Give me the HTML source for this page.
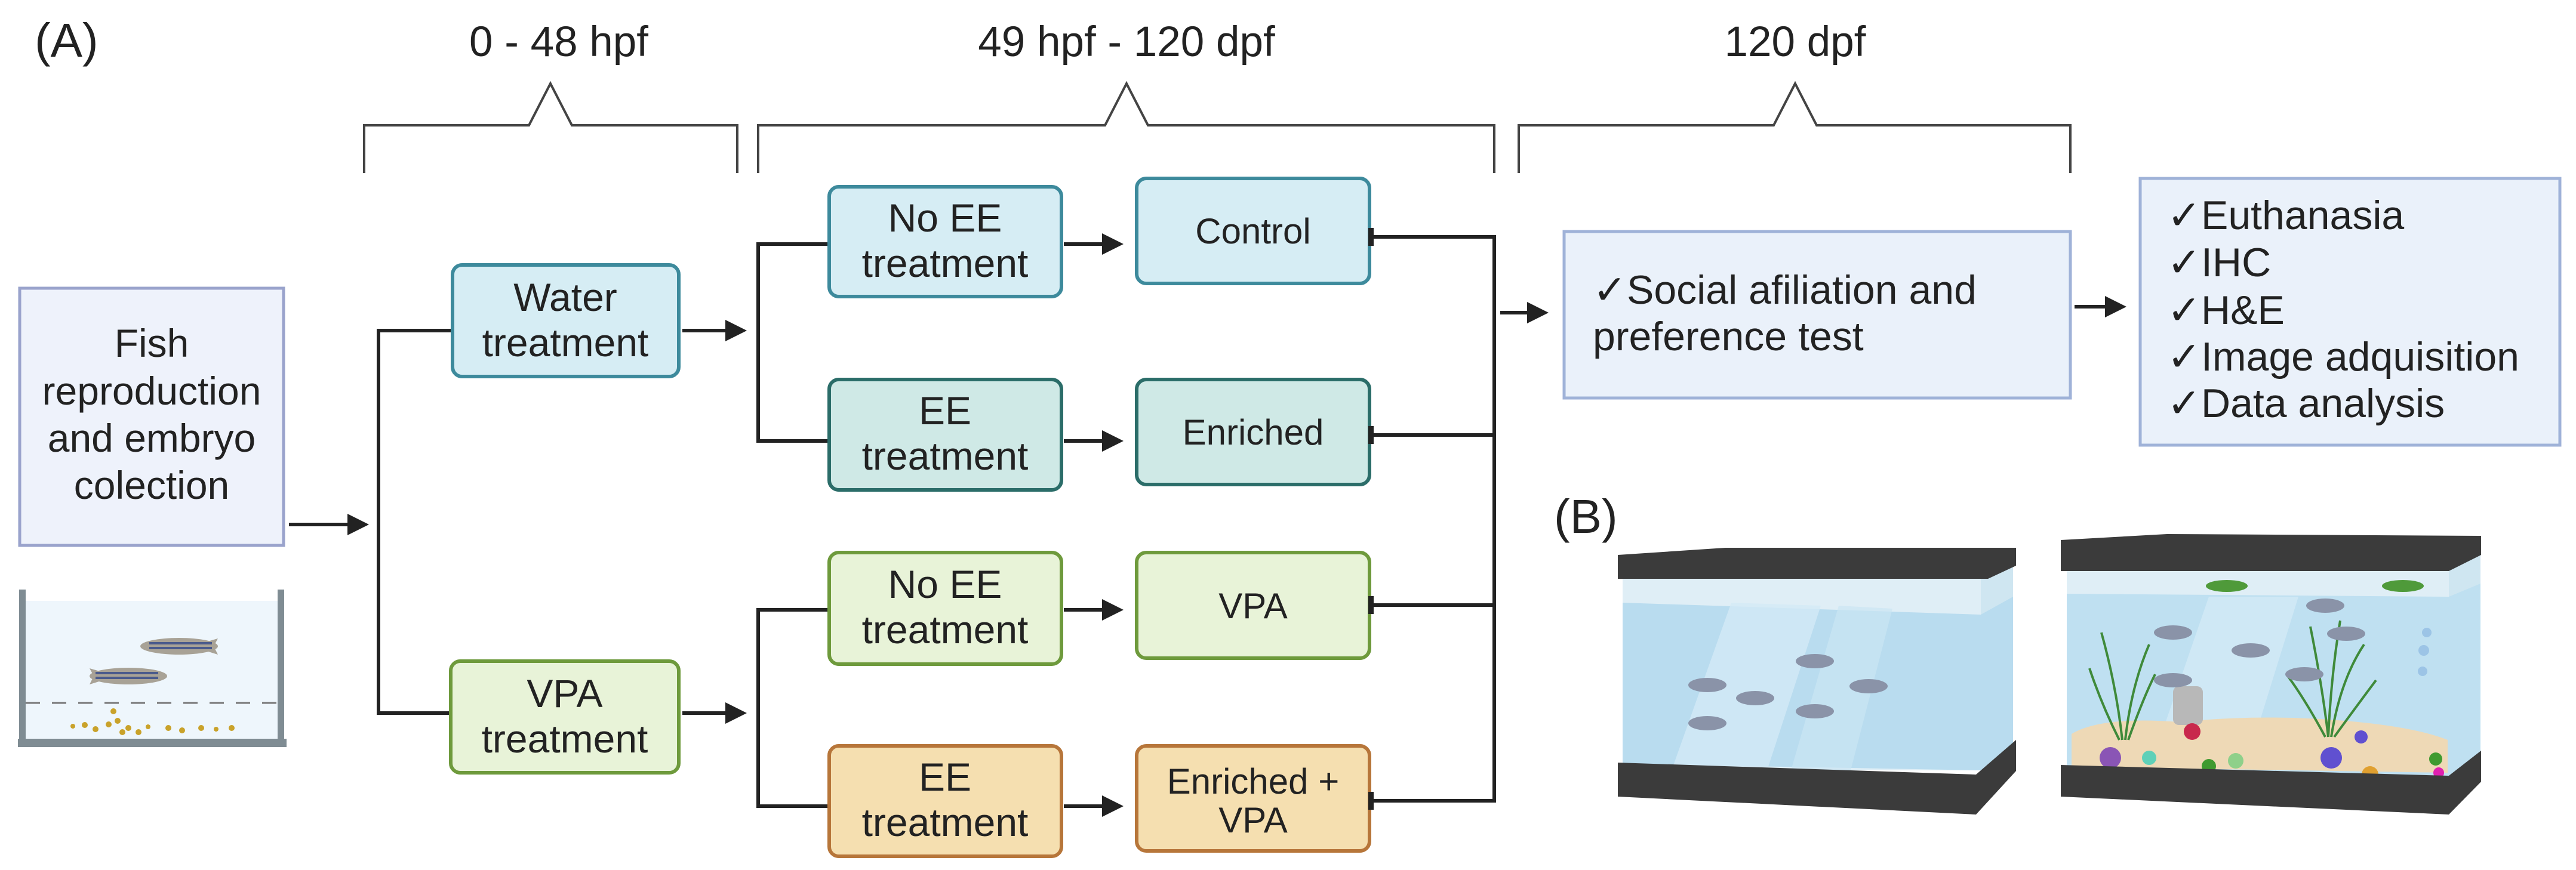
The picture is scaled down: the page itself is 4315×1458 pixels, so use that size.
<!DOCTYPE html>
<html><head><meta charset="utf-8"><style>
html,body{margin:0;padding:0;background:#fff;}
svg{display:block;}
text{font-family:"Liberation Sans","DejaVu Sans",sans-serif;fill:#222;}
</style></head><body>
<svg width="4315" height="1458" viewBox="0 0 4315 1458" xmlns="http://www.w3.org/2000/svg">
<defs>
<marker id="ah" markerWidth="6" markerHeight="6" refX="5" refY="3" orient="auto" markerUnits="strokeWidth">
<path d="M0,0 L6,3 L0,6 z" fill="#222"/></marker>
</defs>

<!-- headers -->
<text x="58" y="95" font-size="80">(A)</text>
<text x="936" y="94" font-size="71" text-anchor="middle">0 - 48 hpf</text>
<text x="1887" y="94" font-size="71" text-anchor="middle">49 hpf - 120 dpf</text>
<text x="3007" y="94" font-size="71" text-anchor="middle">120 dpf</text>

<g fill="none" stroke="#444" stroke-width="4">
<path d="M610,290 V210 H886 L922,140 L958,210 H1235 V290"/>
<path d="M1270,290 V210 H1851 L1887,140 L1923,210 H2503 V290"/>
<path d="M2544,290 V210 H2971 L3007,140 L3043,210 H3468 V290"/>
</g>

<!-- fish box -->
<rect x="33" y="483" width="442" height="431" fill="#eef2fb" stroke="#9aa3cc" stroke-width="5"/>
<g font-size="66" text-anchor="middle">
<text x="254" y="598">Fish</text>
<text x="254" y="678">reproduction</text>
<text x="254" y="757">and embryo</text>
<text x="254" y="836">colection</text>
</g>

<!-- small tank -->
<rect x="40" y="1007" width="430" height="235" fill="#eef6fc"/>
<rect x="32" y="988" width="11" height="262" fill="#7f8c93"/>
<rect x="465" y="988" width="11" height="262" fill="#7f8c93"/>
<rect x="30" y="1238" width="450" height="14" fill="#7f8c93"/>
<line x1="43" y1="1178" x2="465" y2="1178" stroke="#777" stroke-width="3" stroke-dasharray="24,20"/>
<g>
<ellipse cx="300" cy="1083" rx="65" ry="14" fill="#a8a296"/>
<path d="M320,1083 L365,1070 L358,1083 L365,1097z" fill="#a8a296"/>
<path d="M250,1078 H355 M250,1086 H355" stroke="#4a5a8c" stroke-width="4"/>
<ellipse cx="215" cy="1133" rx="65" ry="14" fill="#a8a296"/>
<path d="M195,1133 L150,1120 L157,1133 L150,1147z" fill="#a8a296"/>
<path d="M160,1128 H265 M160,1136 H265" stroke="#4a5a8c" stroke-width="4"/>
</g>
<g fill="#c9a22a">
<circle cx="190" cy="1192" r="5"/><circle cx="197" cy="1208" r="5"/><circle cx="142" cy="1215" r="5"/>
<circle cx="160" cy="1222" r="5"/><circle cx="182" cy="1214" r="5"/><circle cx="205" cy="1227" r="5"/>
<circle cx="215" cy="1220" r="5"/><circle cx="232" cy="1227" r="5"/><circle cx="282" cy="1220" r="5"/>
<circle cx="305" cy="1224" r="5"/><circle cx="337" cy="1220" r="5"/><circle cx="388" cy="1220" r="5"/>
<circle cx="122" cy="1217" r="4"/><circle cx="248" cy="1218" r="4"/><circle cx="362" cy="1222" r="4"/>
</g>

<!-- connectors -->
<g stroke="#222" stroke-width="6" fill="none">
<line x1="484" y1="879" x2="612" y2="879" marker-end="url(#ah)"/>
<path d="M758,554 H634 V1195 H753"/>
<line x1="1143" y1="554" x2="1245" y2="554" marker-end="url(#ah)"/>
<line x1="1143" y1="1195" x2="1245" y2="1195" marker-end="url(#ah)"/>
<path d="M1389,409 H1270 V739 H1389"/>
<path d="M1389,1022 H1270 V1351 H1389"/>
<line x1="1782" y1="409" x2="1876" y2="409" marker-end="url(#ah)"/>
<line x1="1782" y1="739" x2="1876" y2="739" marker-end="url(#ah)"/>
<line x1="1782" y1="1022" x2="1876" y2="1022" marker-end="url(#ah)"/>
<line x1="1782" y1="1351" x2="1876" y2="1351" marker-end="url(#ah)"/>
<path d="M2300,397 H2503 V1342 H2300"/>
<line x1="2300" y1="729" x2="2503" y2="729"/>
<line x1="2300" y1="1014" x2="2503" y2="1014"/>
<line x1="2513" y1="524" x2="2588" y2="524" marker-end="url(#ah)"/>
<line x1="3475" y1="514" x2="3556" y2="514" marker-end="url(#ah)"/>
</g>

<!-- treatment boxes -->
<g stroke-width="6">
<rect x="758" y="444" width="379" height="187" rx="16" fill="#d6edf4" stroke="#3d8a9c"/>
<rect x="755" y="1108" width="382" height="187" rx="16" fill="#e8f3d8" stroke="#6e9a3c"/>
<rect x="1389" y="313" width="389" height="184" rx="16" fill="#d6edf4" stroke="#3d8a9c"/>
<rect x="1389" y="636" width="389" height="185" rx="16" fill="#cfe9e6" stroke="#2b6d69"/>
<rect x="1389" y="926" width="389" height="187" rx="16" fill="#e8f3d8" stroke="#6e9a3c"/>
<rect x="1389" y="1250" width="389" height="185" rx="16" fill="#f5dfb0" stroke="#b7763a"/>
<rect x="1904" y="299" width="390" height="176" rx="16" fill="#d6edf4" stroke="#3d8a9c"/>
<rect x="1904" y="636" width="390" height="176" rx="16" fill="#cfe9e6" stroke="#2b6d69"/>
<rect x="1904" y="926" width="390" height="177" rx="16" fill="#e8f3d8" stroke="#6e9a3c"/>
<rect x="1904" y="1250" width="390" height="176" rx="16" fill="#f5dfb0" stroke="#b7763a"/>
</g>
<g fill="#222">
<rect x="2292" y="382" width="9" height="30"/>
<rect x="2292" y="714" width="9" height="30"/>
<rect x="2292" y="999" width="9" height="30"/>
<rect x="2292" y="1327" width="9" height="30"/>
</g>
<g font-size="66" text-anchor="middle">
<text x="947" y="521">Water</text><text x="947" y="597">treatment</text>
<text x="946" y="1185">VPA</text><text x="946" y="1261">treatment</text>
<text x="1583" y="388">No EE</text><text x="1583" y="464">treatment</text>
<text x="1583" y="711">EE</text><text x="1583" y="787">treatment</text>
<text x="1583" y="1002">No EE</text><text x="1583" y="1078">treatment</text>
<text x="1583" y="1325">EE</text><text x="1583" y="1401">treatment</text>
</g>
<g font-size="60" text-anchor="middle">
<text x="2099" y="408">Control</text>
<text x="2099" y="745">Enriched</text>
<text x="2099" y="1036">VPA</text>
<text x="2099" y="1330">Enriched +</text>
<text x="2099" y="1395">VPA</text>
</g>

<!-- right boxes -->
<rect x="2620" y="388" width="848" height="279" fill="#eaf1fa" stroke="#9fb2d8" stroke-width="5"/>
<g font-size="68">
<text x="2668" y="509">✓Social afiliation and</text>
<text x="2668" y="587">preference test</text>
</g>
<rect x="3585" y="299" width="703" height="447" fill="#eaf1fa" stroke="#9fb2d8" stroke-width="5"/>
<g font-size="68">
<text x="3630" y="384">✓Euthanasia</text>
<text x="3630" y="463">✓IHC</text>
<text x="3630" y="543">✓H&amp;E</text>
<text x="3630" y="621">✓Image adquisition</text>
<text x="3630" y="699">✓Data analysis</text>
</g>

<text x="2603" y="893" font-size="80">(B)</text>

<!-- tank 1 -->
<g>
<rect x="2718" y="966" width="600" height="325" fill="#dfeef6"/>
<polygon points="3318,966 3372,935 3372,1255 3318,1291" fill="#cfe6f1"/>
<polygon points="2718,1010 3318,1030 3372,1000 3372,1255 3318,1291 2718,1280" fill="#b9dcef"/>
<polygon points="2900,1010 3050,1015 2960,1291 2800,1291" fill="#d3eaf6" opacity="0.8"/>
<polygon points="3080,1015 3170,1020 3100,1291 3000,1291" fill="#cbe6f4" opacity="0.7"/>
<polygon points="2710,930 2890,918 3377,918 3377,948 3330,970 2710,970" fill="#3b3b3b"/>
<polygon points="2710,1278 3310,1298 3377,1240 3377,1292 3310,1365 2710,1335" fill="#3b3b3b"/>
<g fill="#8a93a8">
<ellipse cx="3040" cy="1108" rx="32" ry="12"/><ellipse cx="2860" cy="1148" rx="32" ry="12"/>
<ellipse cx="2940" cy="1170" rx="32" ry="12"/><ellipse cx="3130" cy="1150" rx="32" ry="12"/>
<ellipse cx="2860" cy="1212" rx="32" ry="12"/><ellipse cx="3040" cy="1192" rx="32" ry="12"/>
</g>
</g>

<!-- tank 2 -->
<g>
<rect x="3462" y="955" width="640" height="345" fill="#dfeef6"/>
<polygon points="4102,955 4155,925 4155,1260 4102,1300" fill="#cfe6f1"/>
<polygon points="3462,995 4102,1000 4155,978 4155,1260 4102,1300 3462,1285" fill="#bfe0f1"/>
<polygon points="3700,1000 3850,1000 3760,1290 3600,1290" fill="#d3eaf6" opacity="0.8"/>
<path d="M3470,1230 Q3520,1200 3650,1210 Q3800,1195 3950,1210 Q4050,1220 4100,1240 L4100,1295 L3470,1285z" fill="#eed9b6"/>
<rect x="3640" y="1150" width="50" height="65" rx="10" fill="#b8b8b8"/>
<g stroke="#3f8a3a" stroke-width="4" fill="none">
<path d="M3555,1240 Q3545,1150 3520,1060"/><path d="M3560,1240 Q3570,1150 3600,1080"/>
<path d="M3550,1240 Q3520,1180 3500,1120"/><path d="M3565,1240 Q3590,1170 3610,1130"/>
<path d="M3900,1235 Q3890,1150 3870,1050"/><path d="M3905,1235 Q3920,1140 3960,1080"/>
<path d="M3895,1235 Q3860,1170 3830,1130"/><path d="M3910,1235 Q3950,1180 3980,1140"/>
<path d="M3900,1235 Q3905,1130 3920,1040"/>
</g>
<ellipse cx="3730" cy="982" rx="35" ry="10" fill="#4f9a3a"/>
<ellipse cx="4025" cy="982" rx="35" ry="10" fill="#4f9a3a"/>
<g fill="#8a93a8">
<ellipse cx="3895" cy="1015" rx="32" ry="12"/><ellipse cx="3640" cy="1060" rx="32" ry="12"/>
<ellipse cx="3770" cy="1090" rx="32" ry="12"/><ellipse cx="3930" cy="1062" rx="32" ry="12"/>
<ellipse cx="3640" cy="1140" rx="32" ry="12"/><ellipse cx="3860" cy="1130" rx="32" ry="12"/>
</g>
<g fill="#9cc4e6"><circle cx="4065" cy="1060" r="8"/><circle cx="4060" cy="1090" r="9"/><circle cx="4058" cy="1125" r="8"/></g>
<circle cx="3535" cy="1270" r="18" fill="#8a55b5"/>
<circle cx="3600" cy="1270" r="12" fill="#5fd0b8"/>
<circle cx="3672" cy="1226" r="14" fill="#c8284c"/>
<circle cx="3700" cy="1284" r="12" fill="#3f9a30"/>
<circle cx="3745" cy="1275" r="13" fill="#8ed08a"/>
<circle cx="3905" cy="1270" r="18" fill="#6050d0"/>
<circle cx="3955" cy="1235" r="11" fill="#6050d0"/>
<circle cx="3970" cy="1298" r="14" fill="#e0a030"/>
<circle cx="4080" cy="1272" r="11" fill="#3f9a30"/>
<circle cx="4085" cy="1295" r="9" fill="#e020b0"/>
<polygon points="3452,905 3630,895 4156,898 4156,930 4102,957 3452,957" fill="#3b3b3b"/>
<polygon points="3452,1282 4102,1300 4156,1258 4156,1310 4102,1365 3452,1335" fill="#3b3b3b"/>
</g>
</svg>
</body></html>
